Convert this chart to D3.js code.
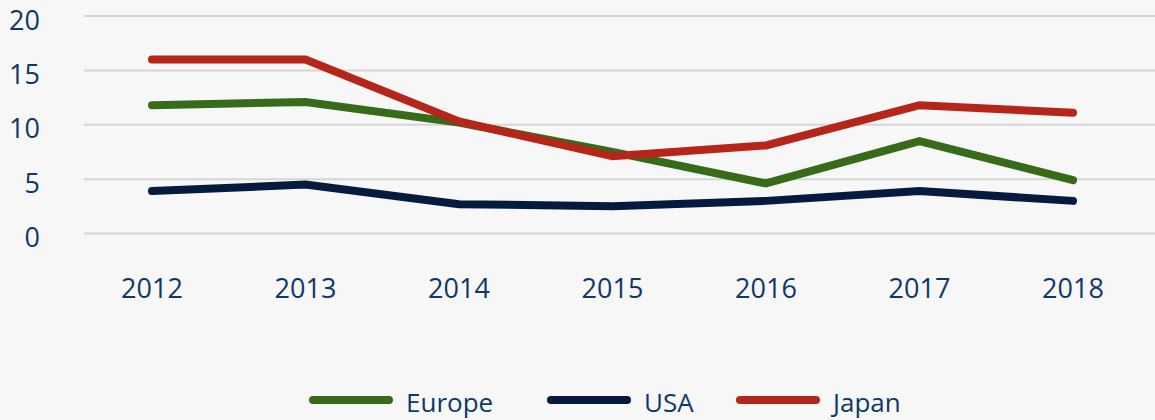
<!DOCTYPE html>
<html>
<head>
<meta charset="utf-8">
<script src="https://cdn.jsdelivr.net/npm/d3@7"></script>
<style>
  body { margin: 0; background: #f7f7f7; }
  svg { display: block; font-family: "Open Sans", sans-serif; }
</style>
</head>
<body>
<svg id="chart" width="1155" height="420"></svg>
<script>
const years = ['2012', '2013', '2014', '2015', '2016', '2017', '2018'];
const europe = [11.8, 12.1, 10.2, 7.5, 4.6, 8.5, 4.9];
const usa = [3.9, 4.5, 2.7, 2.5, 3.0, 3.9, 3.0];
const japan = [16.0, 16.0, 10.3, 7.1, 8.1, 11.8, 11.1];
const yTicks = [0, 5, 10, 15, 20];

const series = [
  { name: 'Europe', values: europe, color: '#376a19' },
  { name: 'USA', values: usa, color: '#061a3f' },
  { name: 'Japan', values: japan, color: '#b5251a' }
];

const textColor = '#0e3868';
const svg = d3.select('#chart');

const x = d3.scalePoint()
  .domain(years)
  .range([75.25, 1149.75])
  .padding(0.5);

const y = d3.scaleLinear()
  .domain([0, 20])
  .range([233.5, 16]);

// grid lines
svg.append('g')
  .selectAll('line')
  .data(yTicks)
  .join('line')
  .attr('x1', 84)
  .attr('x2', 1155)
  .attr('y1', d => y(d))
  .attr('y2', d => y(d))
  .attr('stroke', '#d6d6d6')
  .attr('stroke-width', 2);

// y labels
svg.append('g')
  .selectAll('text')
  .data(yTicks)
  .join('text')
  .attr('x', 40)
  .attr('y', d => y(d) + 13.5)
  .attr('text-anchor', 'end')
  .attr('fill', textColor)
  .style('font-size', '27px')
  .text(d => d);

// x labels
svg.append('g')
  .selectAll('text')
  .data(years)
  .join('text')
  .attr('x', d => x(d))
  .attr('y', 298)
  .attr('text-anchor', 'middle')
  .attr('fill', textColor)
  .style('font-size', '27px')
  .text(d => d);

const line = d3.line()
  .x((d, i) => x(years[i]))
  .y(d => y(d));

svg.append('g')
  .selectAll('path')
  .data(series)
  .join('path')
  .attr('d', d => line(d.values))
  .attr('fill', 'none')
  .attr('stroke', d => d.color)
  .attr('stroke-width', 8)
  .attr('stroke-linecap', 'round')
  .attr('stroke-linejoin', 'miter');

// legend
const legendX = [310, 548, 737];
const legend = svg.append('g')
  .selectAll('g')
  .data(series)
  .join('g')
  .attr('transform', (d, i) => `translate(${legendX[i]},400)`);

legend.append('line')
  .attr('x1', 3)
  .attr('x2', 79)
  .attr('stroke', d => d.color)
  .attr('stroke-width', 8)
  .attr('stroke-linecap', 'round');

legend.append('text')
  .attr('x', 96)
  .attr('y', 12)
  .attr('fill', textColor)
  .style('font-size', '26px')
  .text(d => d.name);
</script>
</body>
</html>
